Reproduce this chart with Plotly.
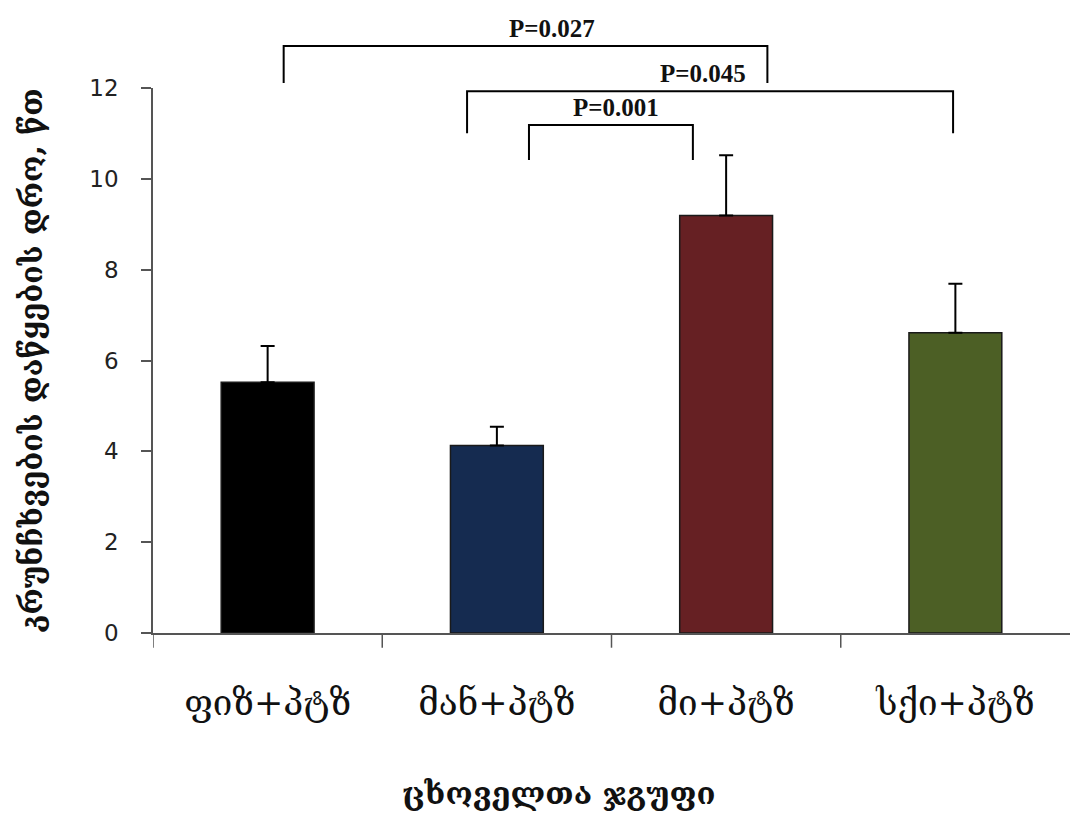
import plotly.graph_objects as go

# Group means and upper error (SE) for onset time of convulsions, minutes
groups = ["ფიზ+პტზ", "მან+პტზ", "მი+პტზ", "სქი+პტზ"]
means = [5.52, 4.13, 9.19, 6.61]
errors = [0.80, 0.41, 1.33, 1.08]
colors = ["#000000", "#152B50", "#662023", "#4C5F25"]

# Significance brackets: left x, right x (category index units), bar height,
# left leg bottom, right leg bottom (paper units), label, label x
brackets = [
    dict(x0=0.07, x1=2.18, top=1.077, leg0=1.009, leg1=1.009, label="P=0.027", lx=1.24),
    dict(x0=0.87, x1=2.99, top=0.994, leg0=0.917, leg1=0.917, label="P=0.045", lx=1.90),
    dict(x0=1.14, x1=1.855, top=0.932, leg0=0.868, leg1=0.868, label="P=0.001", lx=1.52),
]

fig = go.Figure()
fig.add_trace(go.Bar(
    x=list(range(len(groups))),
    y=means,
    width=0.405,
    marker=dict(color=colors, line=dict(color="#1a1a1a", width=1.5)),
    error_y=dict(type="data", symmetric=False, array=errors,
                 arrayminus=[0] * len(errors), color="#000000",
                 thickness=2, width=7),
    showlegend=False,
))

for b in brackets:
    fig.add_shape(type="path", xref="x", yref="paper",
                  path=f"M {b['x0']} {b['leg0']} L {b['x0']} {b['top']} "
                       f"L {b['x1']} {b['top']} L {b['x1']} {b['leg1']}",
                  line=dict(color="#000000", width=2))
    fig.add_annotation(x=b["lx"], y=b["top"], xref="x", yref="paper",
                       text=f"<b>{b['label']}</b>", showarrow=False, yanchor="bottom",
                       yshift=2,
                       font=dict(family="Liberation Serif", size=25, color="#111111"))

fig.add_annotation(x=0.4417, y=0, xref="paper", yref="paper",
                   text="<b>ცხოველთა ჯგუფი</b>", showarrow=False, yshift=-160,
                   yanchor="middle",
                   font=dict(family="DejaVu Serif", size=31, color="#111111"))

fig.update_layout(
    width=1070, height=817,
    margin=dict(l=153, r=0, t=88, b=184),
    plot_bgcolor="white", paper_bgcolor="white",
    xaxis=dict(
        range=[-0.5, 3.5],
        tickmode="array", tickvals=list(range(len(groups))), ticktext=groups,
        showline=True, linecolor="#555555", linewidth=1.5,
        ticks="", showgrid=False, zeroline=False,
        ticklabelstandoff=38,
        tickfont=dict(family="DejaVu Serif", size=35, color="#111111"),
    ),
    yaxis=dict(
        range=[0, 12], tickvals=[0, 2, 4, 6, 8, 10, 12],
        showline=True, linecolor="#555555", linewidth=1.5,
        ticks="outside", ticklen=10, tickcolor="#555555", tickwidth=1.5,
        showgrid=False, zeroline=False,
        ticklabelstandoff=18,
        tickfont=dict(family="DejaVu Sans", size=23, color="#222222"),
        title=dict(text="<b>კრუნჩხვების დაწყების დრო, წთ</b>",
                   font=dict(family="DejaVu Serif", size=30, color="#111111"),
                   standoff=38),
    ),
)

# boundary ticks on the category axis
for bx in [-0.5, 0.5, 1.5, 2.5]:
    fig.add_shape(type="line", xref="x", yref="paper", x0=bx, x1=bx, y0=0, y1=-0.027,
                  line=dict(color="#555555", width=1.5))

fig.write_html("out.html")
